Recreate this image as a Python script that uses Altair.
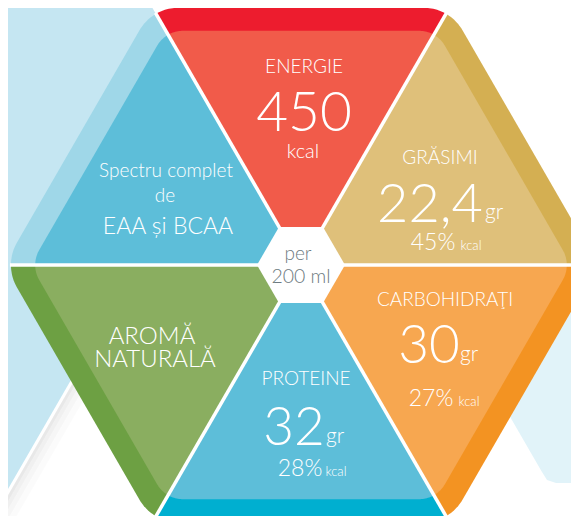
import math
import altair as alt
import pandas as pd

# ---------------- content ----------------
seg_names = ["GRĂSIMI", "ENERGIE", "EAA și BCAA", "AROMĂ NATURALĂ", "PROTEINE", "CARBOHIDRAŢI"]
seg_band_colors = ["#D4AF52", "#ED1C2E", "#9FD7E8", "#6DA043", "#00AFD0", "#F39322"]
seg_face_colors = ["#DFC07A", "#F15B4A", "#5DBED9", "#8AAE60", "#5DBED9", "#F7A750"]

# light (big numbers)
value_texts = ["450", "22,4", "32", "30"]
# labels
label_texts = ["ENERGIE", "kcal", "GRĂSIMI", "gr", "45%", "kcal",
               "Spectru complet", "de", "EAA și BCAA", "AROMĂ", "NATURALĂ",
               "PROTEINE", "gr", "28%", "kcal", "CARBOHIDRAŢI", "gr", "27%", "kcal"]
center_texts = ["per", "200 ml"]

# ---------------- layout (image pixels) ----------------
W, H = 563, 508
OX, OY = 8, 8
CX, CY = 301, 265          # hexagon centre
R_OUT, RC_OUT = 297, 45    # circumradius, corner rounding
BAND = 23                  # outer band thickness
RC_IN = 30
R_IN = R_OUT - BAND / math.cos(math.pi / 6)
R_CENTER = 44
GAP = 3.5

value_pos = [(304, 131, 55), (430, 222, 54), (294, 445, 53), (429, 363, 53)]
label_pos = [(304, 73, 19), (303, 158, 20), (440, 164, 19), (494, 219, 21), (433, 250, 23), (471, 250, 13),
             (166, 177, 19), (165, 202, 19), (168, 234, 23), (152, 344, 24), (155, 367, 24),
             (306, 385, 19), (335, 443, 21), (300, 476, 23), (336, 476, 13), (445, 306, 19),
             (469, 361, 21), (431, 406, 23), (469, 406, 13)]
center_pos = [(298, 260, 19), (301, 283, 19.5)]


def cx(x):
    return x - OX


def cy(y):
    return y - OY


def path_of(pts):
    return "M" + "L".join(f"{x:.2f},{y:.2f}" for x, y in pts) + "Z"


def segment_pts(i, rh, rc, n=12):
    th0 = math.radians(60 * i)
    th1 = th0 + math.pi / 3
    d = rh - rc / math.sin(math.pi / 3)
    pts = [(0.0, 0.0)]
    for k in range(n + 1):
        a = th0 + (math.pi / 6) * k / n
        pts.append((d * math.cos(th0) + rc * math.cos(a), -(d * math.sin(th0) + rc * math.sin(a))))
    for k in range(n + 1):
        a = th1 - math.pi / 6 + (math.pi / 6) * k / n
        pts.append((d * math.cos(th1) + rc * math.cos(a), -(d * math.sin(th1) + rc * math.sin(a))))
    return pts


def rel(pts):
    return [(x - CX, y - CY) for x, y in pts]


# background shapes (image px)
bg_left = [(-10, -10), (142.1, -10), (219.1, 123.4), (-10, 520.3)]
bg_right = [(442.6, 300), (541.4, 471), (547, 480), (556, 483), (620, 483), (620, 300)]


def offset_band(o1, o2):
    s = math.sqrt(3)
    n = (math.sin(math.pi / 3), math.cos(math.pi / 3))
    p0, p1 = (0 - 10 / s, 503 + 10), (219.1, 123.4)
    return [(p0[0] + n[0] * o1, p0[1] + n[1] * o1), (p1[0] + n[0] * o1, p1[1] + n[1] * o1),
            (p1[0] + n[0] * o2, p1[1] + n[1] * o2), (p0[0] + n[0] * o2, p0[1] + n[1] * o2)]


shape_rows = []
shape_rows.append({"x": cx(CX), "y": cy(CY), "path": path_of(rel(bg_left)), "fill": "#C5E6F2", "o": 1.0})
for (o1, o2, op) in [(3, 6, 0.09), (6, 10, 0.06), (10, 15, 0.035), (15, 21, 0.015)]:
    shape_rows.append({"x": cx(CX), "y": cy(CY), "path": path_of(rel(offset_band(o1, o2))), "fill": "#000000", "o": op})
shape_rows.append({"x": cx(CX), "y": cy(CY), "path": path_of(rel(bg_right)), "fill": "#E1F3F9", "o": 1.0})
for i in range(6):
    shape_rows.append({"x": cx(CX), "y": cy(CY), "path": path_of(segment_pts(i, R_OUT, RC_OUT)),
                       "fill": seg_band_colors[i], "o": 1.0})
for i in range(6):
    shape_rows.append({"x": cx(CX), "y": cy(CY), "path": path_of(segment_pts(i, R_IN, RC_IN)),
                       "fill": seg_face_colors[i], "o": 1.0})
shapes = pd.DataFrame(shape_rows)

d_out = R_OUT - RC_OUT / math.sin(math.pi / 3) + RC_OUT + 1
div_rows = []
for i in range(6):
    th = math.radians(60 * i)
    div_rows.append({"x": cx(CX), "y": cy(CY),
                     "x2": cx(CX + d_out * math.cos(th)), "y2": cy(CY - d_out * math.sin(th))})
dividers = pd.DataFrame(div_rows)

hex_c = [(R_CENTER * math.cos(math.radians(60 * k)), -R_CENTER * math.sin(math.radians(60 * k))) for k in range(6)]
center_hex = pd.DataFrame([{"x": cx(CX), "y": cy(CY), "path": path_of(hex_c), "fill": "#FFFFFF", "o": 1.0}])

values_df = pd.DataFrame({"t": value_texts, "x": [cx(p[0]) for p in value_pos],
                          "y": [cy(p[1]) for p in value_pos], "s": [p[2] for p in value_pos]})
labels_df = pd.DataFrame({"t": label_texts, "x": [cx(p[0]) for p in label_pos],
                          "y": [cy(p[1]) for p in label_pos], "s": [p[2] for p in label_pos]})
center_df = pd.DataFrame({"t": center_texts, "x": [cx(p[0]) for p in center_pos],
                          "y": [cy(p[1]) for p in center_pos], "s": [p[2] for p in center_pos]})

X = alt.X("x:Q", scale=alt.Scale(domain=[0, W], range=[0, W], nice=False, zero=False), axis=None)
Y = alt.Y("y:Q", scale=alt.Scale(domain=[0, H], range=[0, H], nice=False, zero=False), axis=None)


def shape_layer(df):
    return alt.Chart(df).mark_point(filled=True, size=4, strokeWidth=0).encode(
        x=X, y=Y,
        shape=alt.Shape("path:N", scale=None),
        fill=alt.Fill("fill:N", scale=None),
        opacity=alt.Opacity("o:Q", scale=None),
    )


shape_base = shape_layer(shapes)
div_layer = alt.Chart(dividers).mark_rule(color="#FFFFFF", strokeWidth=GAP, strokeCap="butt").encode(
    x=X, y=Y, x2="x2:Q", y2="y2:Q")
center_layer = shape_layer(center_hex)


def text_layer(df, color, weight):
    return alt.Chart(df).mark_text(font="Lato", align="center", baseline="alphabetic",
                                   color=color, fontWeight=weight).encode(
        x=X, y=Y, text="t:N", size=alt.Size("s:Q", scale=None))


chart = alt.layer(
    shape_base, div_layer, center_layer,
    text_layer(values_df, "#FFFFFF", 300),
    text_layer(labels_df, "#FFFFFF", 300),
    text_layer(center_df, "#6E7B81", 300),
).properties(width=W, height=H, padding=0, autosize="none", background="#FFFFFF"
).configure_view(stroke=None)

chart.save("out.html", embed_options={"renderer": "svg", "actions": False})
